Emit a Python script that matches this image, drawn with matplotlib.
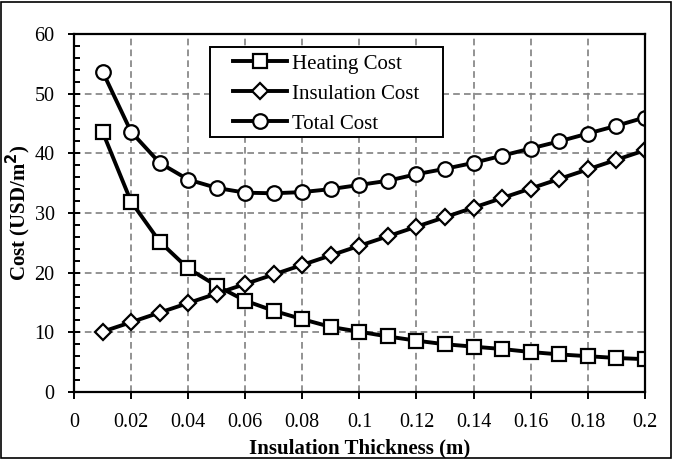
import numpy as np
import matplotlib.pyplot as plt
from matplotlib.ticker import MultipleLocator
from matplotlib.patches import Rectangle

plt.rcParams['font.family'] = 'serif'
plt.rcParams['font.serif'] = ['Liberation Serif', 'DejaVu Serif']

# data
thickness = [0.01, 0.02, 0.03, 0.04, 0.05, 0.06, 0.07, 0.08, 0.09, 0.10,
             0.11, 0.12, 0.13, 0.14, 0.15, 0.16, 0.17, 0.18, 0.19, 0.20]
heating = [43.6, 31.9, 25.2, 20.7, 17.8, 15.3, 13.6, 12.2, 10.9, 10.1,
           9.3, 8.6, 8.0, 7.6, 7.2, 6.7, 6.3, 6.0, 5.7, 5.5]
insulation = [10.1, 11.7, 13.3, 14.9, 16.5, 18.1, 19.7, 21.3, 22.9, 24.5,
              26.1, 27.7, 29.3, 30.9, 32.5, 34.1, 35.7, 37.3, 38.9, 40.5]
total = [53.7, 43.6, 38.4, 35.6, 34.2, 33.4, 33.3, 33.5, 34.0, 34.7,
         35.4, 36.5, 37.4, 38.4, 39.6, 40.8, 42.0, 43.3, 44.6, 46.0]
labels = ['Heating Cost', 'Insulation Cost', 'Total Cost']

fig = plt.figure(figsize=(6.73, 4.59), dpi=100)
ax = fig.add_axes([0.110, 0.146, 0.848, 0.780])

style = dict(color='black', lw=2.8, markerfacecolor='white',
             markeredgecolor='black', markeredgewidth=1.6)
ax.plot(thickness, heating, marker='s', ms=10, label=labels[0], **style)
ax.plot(thickness, insulation, marker='D', ms=8, label=labels[1], **style)
ax.plot(thickness, total, marker='o', ms=10.5, label=labels[2], **style)

ax.set_xlim(0, 0.2)
ax.set_ylim(0, 60)
ax.yaxis.set_major_locator(MultipleLocator(10))
ax.yaxis.set_minor_locator(MultipleLocator(2))
ax.set_xticks(np.arange(0, 0.201, 0.02))
ax.set_xticklabels(['0', '0.02', '0.04', '0.06', '0.08', '0.1', '0.12',
                    '0.14', '0.16', '0.18', '0.2'])
ax.tick_params(which='major', direction='inout', length=8, width=1.4,
               labelsize=14.5)
ax.tick_params(which='minor', direction='in', length=4, width=1.4)
ax.tick_params(axis='y', pad=10)
ax.tick_params(axis='x', direction='out', length=5, pad=10)
ax.grid(True, which='major', ls=(0, (4, 2.5)), color='#808080', lw=1.2)
for s in ax.spines.values():
    s.set_linewidth(1.6)

ax.set_xlabel('Insulation Thickness (m)', fontsize=15, fontweight='bold',
              labelpad=4.5)
ax.set_ylabel('Cost (USD/m$^\\mathbf{2}$)', fontsize=15, fontweight='bold',
              labelpad=1)

# legend without its own frame; the frame is drawn separately to get the
# wide side margins of the original
leg = fig.legend(loc='upper left', bbox_to_anchor=(0.346, 0.882), fontsize=15,
                 frameon=False, borderpad=0, handlelength=2.6,
                 labelspacing=0.5, handletextpad=0.25, borderaxespad=0)
fig.patches.append(Rectangle((0.312, 0.7015), 0.346, 0.196,
                             transform=fig.transFigure, fill=True,
                             facecolor='white', edgecolor='black', lw=1.4,
                             zorder=1))
leg.set_zorder(2)

# outer frame around the whole figure
fig.patches.append(Rectangle((0.002, 0.003), 0.995, 0.993,
                             transform=fig.transFigure, fill=False,
                             edgecolor='black', lw=1.2))

fig.savefig('out.png', dpi=100)
